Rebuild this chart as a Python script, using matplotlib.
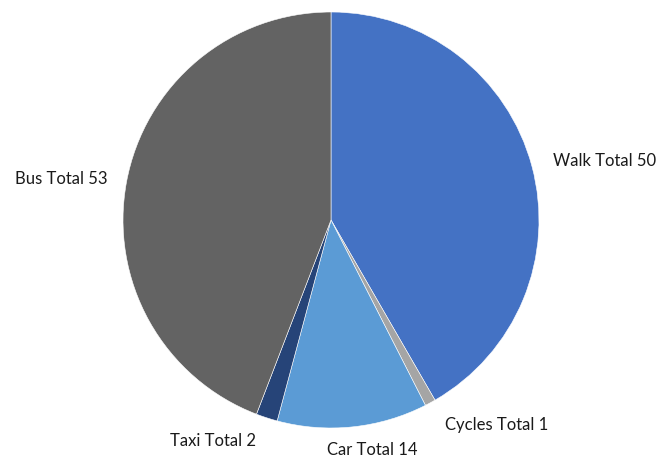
import matplotlib
matplotlib.use("Agg")
import matplotlib.pyplot as plt

modes = ["Walk", "Cycles", "Car", "Taxi", "Bus"]
totals = [50, 1, 14, 2, 53]
colors = ["#4472C4", "#A5A5A5", "#5B9BD5", "#264478", "#636363"]

# label centres in pixel space (x, y from top)
label_pos = [(605, 161), (497, 425), (372, 450), (213, 441), (61, 179)]

W, H = 660, 462
fig = plt.figure(figsize=(W / 100, H / 100), dpi=100)
ax = fig.add_axes([0, 0, 1, 1])

ax.pie(totals, colors=colors, startangle=90, counterclock=False,
       center=(331, H - 220), radius=208, frame=True,
       wedgeprops=dict(edgecolor="white", linewidth=0.4))
ax.set_xlim(0, W)
ax.set_ylim(0, H)
ax.set_axis_off()

for m, t, (x, y) in zip(modes, totals, label_pos):
    ax.text(x, H - y, f"{m} Total {t}", ha="center", va="center",
            fontsize=12, family="Lato", color="#1a1a1a")

fig.savefig("out.png", facecolor="white")
